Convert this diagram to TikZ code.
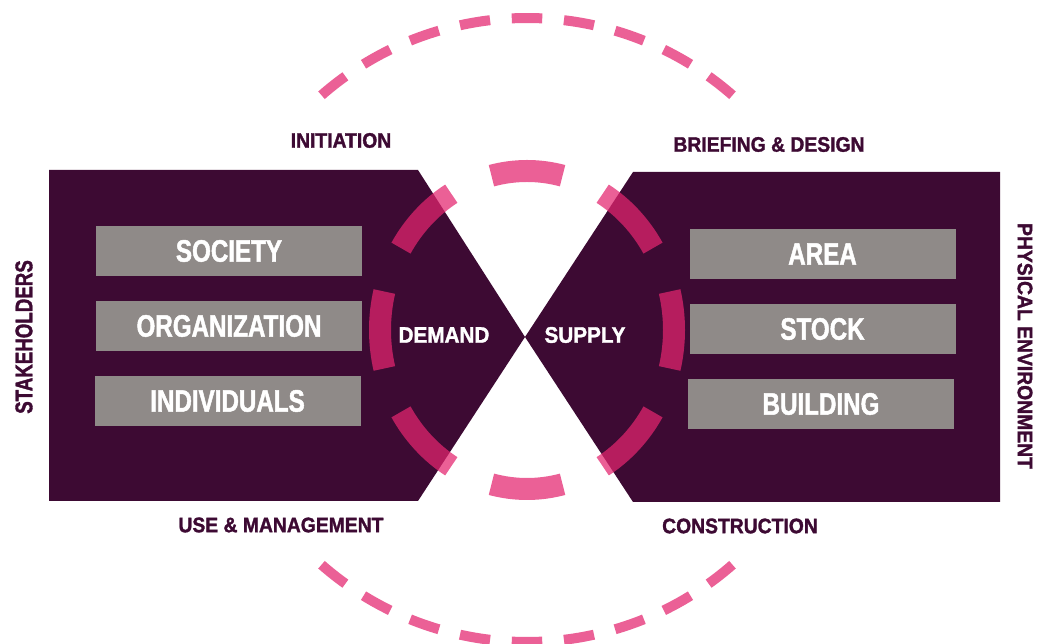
\documentclass[tikz,border=0pt]{standalone}
\usepackage{fontspec}
\setmainfont{Liberation Sans}
\newfontfamily\boxfont{Liberation Sans}[FakeStretch=0.78, FakeBold=1.5]
\newfontfamily\labelfont{Liberation Sans}[FakeStretch=0.92, FakeBold=1.5]
\usepackage{tikz}
\usetikzlibrary{positioning}
\definecolor{hbpurple}{RGB}{61,10,51}
\definecolor{hbgray}{RGB}{143,138,136}
\definecolor{hbpink}{RGB}{227,37,111}
\definecolor{hbrose}{RGB}{235,96,150}
\tikzstyle{field} = [rectangle, minimum width=266pt, minimum height=50pt, inner sep=0pt, fill=hbgray, text=white, font=\boxfont\bfseries\fontsize{31}{31}\selectfont]
\tikzstyle{phase} = [text=hbpurple, font=\labelfont\bfseries\fontsize{21}{21}\selectfont]
\tikzstyle{side} = [text=white, font=\labelfont\bfseries\fontsize{22.5}{22.5}\selectfont]
\tikzstyle{ring} = [line width=22pt, draw=hbpink, opacity=0.73]
\tikzstyle{cycle} = [line width=10pt, draw=hbrose]

\begin{document}
\begin{tikzpicture}[x=1pt, y=1pt, node distance=75pt]
\useasboundingbox (0,0) rectangle (1039,644);
\coordinate (hub) at (527,314);
% demand and supply halves
\fill[hbpurple] (49,143) -- (49,474) -- (418,474) -- (525,307) -- (418,143) -- cycle;
\fill[hbpurple] (1000,142) -- (1000,472) -- (633,472) -- (525,307) -- (633,142) -- cycle;
% inner ring
\foreach \a [evaluate=\a as \s using \a-14, evaluate=\a as \e using \a+14] in {0,45,...,315}
  \draw[ring] (hub) ++(\s:147pt and 159pt) arc[start angle=\s, end angle=\e, x radius=147, y radius=159];
% outer cycle, top and bottom
\foreach \k [evaluate=\k as \s using 90+\k*9.6-2.8, evaluate=\k as \e using 90+\k*9.6+2.8] in {-4,...,4}
  \draw[cycle] (hub) ++(\s:312pt) arc[start angle=\s, end angle=\e, radius=312];
\foreach \k [evaluate=\k as \s using 270+\k*9.6-2.8, evaluate=\k as \e using 270+\k*9.6+2.8] in {-4,...,4}
  \draw[cycle] (hub) ++(\s:312pt) arc[start angle=\s, end angle=\e, radius=312];
% stakeholders
\node (society) [field] at (229,393) {SOCIETY};
\node (organization) [field, below of=society] {ORGANIZATION};
\node (individuals) [field, below of=organization, xshift=-1.5pt] {INDIVIDUALS};
% physical environment
\node (area) [field] at (822.5,390) {AREA};
\node (stock) [field, below of=area] {STOCK};
\node (building) [field, below of=stock, xshift=-1.5pt] {BUILDING};
\node (demand) [side] at (444,309) {DEMAND};
\node (supply) [side] at (585,309) {SUPPLY};
% phases
\node (initiation) [phase] at (341,503.5) {INITIATION};
\node (briefing) [phase] at (769,499.5) {BRIEFING \& DESIGN};
\node (use) [phase] at (281,119) {USE \& MANAGEMENT};
\node (construction) [phase] at (740,118) {CONSTRUCTION};
\node (stakeholders) [phase, rotate=90, font=\boxfont\bfseries\fontsize{24}{24}\selectfont] at (24,307) {STAKEHOLDERS};
\node (physical) [phase, rotate=-90] at (1025,298) {PHYSICAL ENVIRONMENT};
\end{tikzpicture}
\end{document}
